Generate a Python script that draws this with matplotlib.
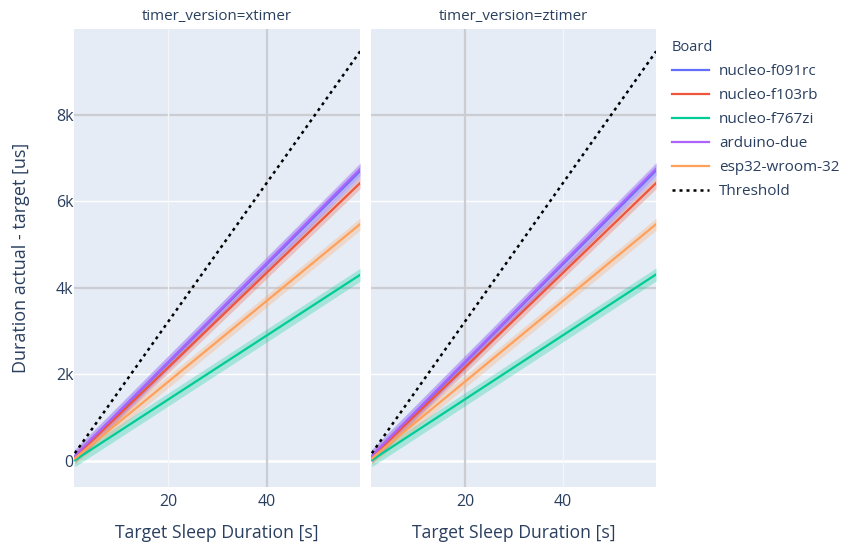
import matplotlib
matplotlib.use("Agg")
import matplotlib.pyplot as plt
import numpy as np
from matplotlib.ticker import FuncFormatter

plt.rcParams['font.family'] = ['Open Sans', 'DejaVu Sans']

# ---- data ----
facets = ["xtimer", "ztimer"]
boards = ["nucleo-f091rc", "nucleo-f103rb", "nucleo-f767zi", "arduino-due", "esp32-wroom-32"]
colors = ["#636efa", "#EF553B", "#00cc96", "#ab63fa", "#FFA15A"]
x_ends = [1, 59]  # target sleep duration [s]
# fitted line values at x=1 and x=59 for each facet
fit_start = {
    "xtimer": [110, 90, 20, 120, 60],
    "ztimer": [110, 90, 20, 120, 60],
}
fit_end = {
    "xtimer": [6700, 6420, 4300, 6740, 5470],
    "ztimer": [6710, 6420, 4310, 6750, 5470],
}
band_half = [160, 130, 150, 150, 140]  # confidence band half-width [us]
threshold_start = 180
threshold_end = 9460
y_ticks = [0, 2000, 4000, 6000, 8000]
x_ticks = [20, 40]

W, H = 843, 549
fig = plt.figure(figsize=(W / 100, H / 100), dpi=100)
fig.patch.set_facecolor("white")

panels = [(74, 360), (371, 656)]
top, bottom = 29, 487
text_color = "#2a3f5f"
bg = "#e5ecf6"
grey_grid = "#cbcdd2"

fig.canvas.draw()
renderer = fig.canvas.get_renderer()


def fit_width(t, target, vertical=False):
    """Scale a text's font so its rendered extent matches the reference."""
    for _ in range(3):
        bb = t.get_window_extent(renderer)
        cur = bb.height if vertical else bb.width
        t.set_fontsize(t.get_fontsize() * target / cur)


axes = []
handles = []
for i, (facet, (l, r)) in enumerate(zip(facets, panels)):
    ax = fig.add_axes([l / W, 1 - bottom / H, (r - l) / W, (bottom - top) / H])
    axes.append(ax)
    ax.set_facecolor(bg)
    for s in ax.spines.values():
        s.set_visible(False)
    ax.set_xlim(0.83, 58.97)
    ax.set_ylim(-600, 9975)
    ax.set_xticks(x_ticks)
    ax.set_yticks(y_ticks)
    ax.tick_params(length=0, labelsize=11.5, colors=text_color, pad=0.5)
    ax.tick_params(axis="x", pad=5)
    ax.yaxis.set_major_formatter(FuncFormatter(lambda v, p: "0" if v == 0 else f"{int(v/1000)}k"))
    if i == 1:
        ax.set_yticklabels([])
    for yv in y_ticks:
        if yv in (4000, 8000):
            ax.axhline(yv, color=grey_grid, lw=1.6, zorder=0.5)
        elif yv == 0:
            ax.axhline(yv, color="white", lw=1.8, zorder=0.5)
        else:
            ax.axhline(yv, color="white", lw=1.0, zorder=0.5)
    for xv in x_ticks:
        grey = (i == 0 and xv == 40) or (i == 1 and xv == 20)
        ax.axvline(xv, color=grey_grid if grey else "#f4f5f8", lw=1.6 if grey else 1.0, zorder=0.5)

    xs = np.array(x_ends, dtype=float)
    handles = []
    for b, c, s0, s1, hw in zip(boards, colors, fit_start[facet], fit_end[facet], band_half):
        ys = np.array([s0, s1], dtype=float)
        ax.fill_between(xs, ys - hw, ys + hw, color=c, alpha=0.28, lw=0, zorder=2)
        h, = ax.plot(xs, ys, color=c, lw=1.6, zorder=3, label=b)
        handles.append(h)
    th, = ax.plot(xs, [threshold_start, threshold_end], color="black", lw=1.8,
                  ls=(0, (1.2, 1.6)), zorder=4, label="Threshold")
    handles.append(th)

    t1 = fig.text((l + r) / 2 / W, 1 - 17 / H, f"timer_version={facet}", ha="center", va="center",
                  fontsize=10.9, color=text_color)
    fit_width(t1, 150)
    t2 = fig.text((l + r) / 2 / W, 1 - 533 / H, "Target Sleep Duration [s]", ha="center", va="center",
                  fontsize=12.8, color=text_color)
    fit_width(t2, 203)

ty = fig.text(21 / W, 1 - 258 / H, "Duration actual - target [us]", ha="center", va="center",
              rotation=90, fontsize=13, color=text_color)
fit_width(ty, 232, vertical=True)

labels = boards + ["Threshold"]
p = dict(fs=12.0, tfs=12.0, hl=2.0, htp=0.4, ls=0.5, x=672.0, y=36.0)


def make_legend(p):
    leg = fig.legend(handles=handles, labels=labels, loc="upper left",
                     bbox_to_anchor=(p["x"] / W, 1 - p["y"] / H), frameon=False, title="Board",
                     fontsize=p["fs"], title_fontsize=p["tfs"], handlelength=p["hl"],
                     labelspacing=p["ls"], handletextpad=p["htp"], alignment="left",
                     borderaxespad=0, borderpad=0)
    for t in leg.get_texts():
        t.set_color(text_color)
    leg.get_title().set_color(text_color)
    return leg


for _ in range(5):
    leg = make_legend(p)
    fig.canvas.draw()
    texts = leg.get_texts()
    b0 = texts[0].get_window_extent(renderer)
    bl = texts[-1].get_window_extent(renderer)
    tb = leg.get_title().get_window_extent(renderer)
    p["fs"] *= 97.5 / b0.width
    p["tfs"] *= 41.0 / tb.width
    px = p["fs"] * 100 / 72
    p["hl"] = 37.0 / px
    p["htp"] = max(0.05, p["htp"] + (719 - b0.x0) / px * 0.5)
    rows = ((b0.y0 + b0.y1) / 2 - (bl.y0 + bl.y1) / 2) / 5
    p["ls"] = max(0.05, p["ls"] + (24.0 - rows) / px)
    p["x"] += 672 - tb.x0
    tcy = H - (tb.y0 + tb.y1) / 2
    p["y"] += 47.5 - tcy
    leg.remove()

leg = make_legend(p)

fig.savefig("out.png", dpi=100, facecolor="white")
